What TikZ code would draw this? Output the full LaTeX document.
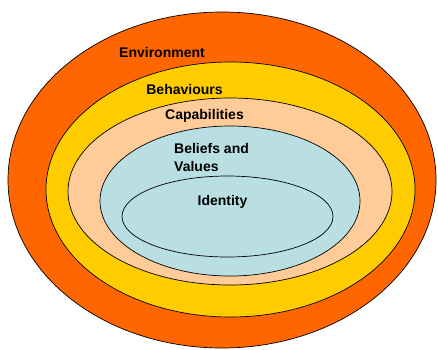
\documentclass[tikz,border=0pt]{standalone}
\usepackage{fontspec}
\setmainfont{Liberation Sans}
\definecolor{envc}{HTML}{FF6600}
\definecolor{behc}{HTML}{FFCC00}
\definecolor{capc}{HTML}{FFCC99}
\definecolor{belc}{HTML}{B9DFE3}
\begin{document}
\begin{tikzpicture}[x=1pt,y=-1pt,
  ring/.style={draw=black,line width=0.7pt},
  lbl/.style={font=\fontsize{14}{17}\selectfont\bfseries,inner sep=0pt,text=black}]
\useasboundingbox (0,0) rectangle (438,349);
\clip (0,0) rectangle (438,349);
\fill[white] (0,0) rectangle (438,349);
\filldraw[ring,fill=envc] (222,180) ellipse [x radius=214, y radius=168];
\filldraw[ring,fill=behc] (230.5,189.5) ellipse [x radius=184.5, y radius=127.5];
\filldraw[ring,fill=capc] (230,191.5) ellipse [x radius=162, y radius=93.5];
\filldraw[ring,fill=belc] (230,201) ellipse [x radius=130, y radius=75];
\filldraw[ring,fill=belc] (227.5,216.5) ellipse [x radius=105.5, y radius=40.5];
\node[lbl] (env) at (162,52) {Environment};
\node[lbl] (beh) at (184.5,89) {Behaviours};
\node[lbl,anchor=west] (cap) at (165,116) {Capabilities};
\node[lbl,anchor=west] (bel1) at (174,148) {Beliefs and};
\node[lbl,anchor=west] (bel2) at (174,166) {Values};
\node[lbl] (ide) at (222.5,202) {Identity};
\end{tikzpicture}
\end{document}
